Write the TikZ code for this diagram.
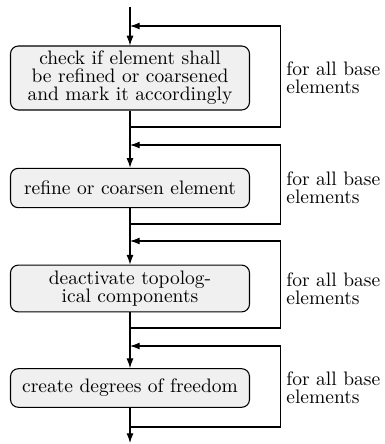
\documentclass[tikz,border=0pt]{standalone}
\usetikzlibrary{arrows.meta}
\tikzset{
  stepbox/.style={draw, line width=0.55pt, rounded corners=4pt, fill=black!6,
    align=center, inner sep=0pt, minimum width=122.6pt,
    font=\fontsize{10}{9.3}\selectfont},
  looplabel/.style={anchor=west, align=left, inner sep=0pt,
    font=\fontsize{10}{9.2}\selectfont},
  flow/.style={line width=0.55pt, -{Latex[length=5pt,width=3.6pt]}}
}
\begin{document}
\begin{tikzpicture}[x=0.513pt, y=-0.513pt]
  \useasboundingbox (0,0) rectangle (384,444);

  % process steps
  \node[stepbox, minimum height=32.8pt] (s1) at (130,78)
    {check if element shall\\be refined or coarsened\\and mark it accordingly};
  \node[stepbox, minimum height=20.2pt] (s2) at (130,188)
    {refine or coarsen element};
  \node[stepbox, minimum height=24pt] (s3) at (130,288.5)
    {deactivate topolog-\\ical components};
  \node[stepbox, minimum height=19.8pt] (s4) at (130,388)
    {create degrees of freedom};

  % loop labels
  \node[looplabel] (t1) at (286,78) {for all base\\elements};
  \node[looplabel] (t2) at (286,188) {for all base\\elements};
  \node[looplabel] (t3) at (286,288.5) {for all base\\elements};
  \node[looplabel] (t4) at (286,388) {for all base\\elements};

  % junctions on the main line and corners of the loops
  \coordinate (in)  at (130,7);
  \coordinate (out) at (130,443);
  \foreach \i/\top/\bot in {1/26/127, 2/145/224, 3/241/328, 4/346/427} {
    \coordinate (a\i) at (130,\top);
    \coordinate (b\i) at (130,\bot);
    \coordinate (ra\i) at (280.5,\top);
    \coordinate (rb\i) at (280.5,\bot);
  }

  % main flow
  \draw[flow] (in) -- (s1.north);
  \draw[flow] (s1.south) -- (s2.north);
  \draw[flow] (s2.south) -- (s3.north);
  \draw[flow] (s3.south) -- (s4.north);
  \draw[flow] (s4.south) -- (out);

  % return loops
  \foreach \i in {1,2,3,4} {
    \draw[flow] (b\i) -- (rb\i) -- (ra\i) -- (a\i);
  }
\end{tikzpicture}
\end{document}
